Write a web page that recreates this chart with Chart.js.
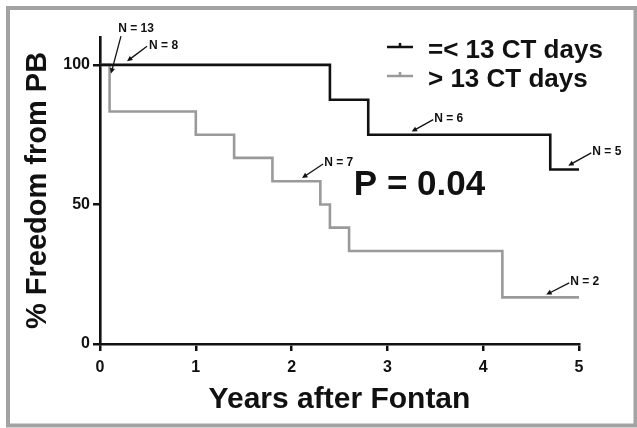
<!DOCTYPE html>
<html>
<head>
<meta charset="utf-8">
<script src="https://cdn.jsdelivr.net/npm/chart.js@4"></script>
<style>
  html, body { margin: 0; padding: 0; background: #fff; }
  #wrap { position: relative; width: 637px; height: 428px; }
</style>
</head>
<body>
<div id="wrap"><canvas id="km"></canvas></div>
<script>
// Kaplan-Meier data
const groupLabels = ['=< 13 CT days', '> 13 CT days'];
const shortYears = [0, 2.4, 2.8, 4.7, 5];
const shortFree = [100, 87.5, 75, 62.5, 62.5];
const longYears = [0, 0.1, 1.0, 1.4, 1.8, 2.3, 2.4, 2.6, 4.2, 5];
const longFree = [100, 83.3, 75, 66.7, 58.3, 50, 41.7, 33.3, 16.7, 16.7];
const yTicks = [0, 50, 100];
const pValueText = 'P = 0.04';

// number-at-risk callouts: text, arrow tip, arrow tail, label anchor (data units)
const callouts = [
  { text: 'N = 13', tip: [0.115, 96.9], tail: [0.219, 110.3], at: [0.376, 112.9], align: 'center' },
  { text: 'N = 8', tip: [0.282, 101.3], tail: [0.491, 106.7], at: [0.512, 106.9], align: 'left' },
  { text: 'N = 6', tip: [3.253, 76.1], tail: [3.478, 80.4], at: [3.489, 80.8], align: 'left' },
  { text: 'N = 5', tip: [4.888, 63.9], tail: [5.128, 68.5], at: [5.139, 68.9], align: 'left' },
  { text: 'N = 7', tip: [2.109, 59.5], tail: [2.329, 64.5], at: [2.340, 64.9], align: 'left' },
  { text: 'N = 2', tip: [4.658, 17.7], tail: [4.898, 21.9], at: [4.909, 22.5], align: 'left' }
];

const FONT = '"Liberation Sans", Arial, Helvetica, sans-serif';
const BLACK = '#111';
const GRAY = '#9a9a9a';

const toPoints = (xs, ys) => xs.map((x, i) => ({ x, y: ys[i] }));

function drawArrow(ctx, x1, y1, x2, y2) {
  const ang = Math.atan2(y2 - y1, x2 - x1);
  const head = 6;
  ctx.beginPath();
  ctx.moveTo(x1, y1);
  ctx.lineTo(x2 - Math.cos(ang) * head * 0.6, y2 - Math.sin(ang) * head * 0.6);
  ctx.stroke();
  ctx.beginPath();
  ctx.moveTo(x2, y2);
  ctx.lineTo(x2 - head * Math.cos(ang - 0.45), y2 - head * Math.sin(ang - 0.45));
  ctx.lineTo(x2 - head * Math.cos(ang + 0.45), y2 - head * Math.sin(ang + 0.45));
  ctx.closePath();
  ctx.fill();
}

// frame, legend, p value and callouts
const extrasPlugin = {
  id: 'extras',
  afterDraw(chart) {
    const { ctx, scales: { x, y } } = chart;
    ctx.save();

    // outer gray frame
    ctx.strokeStyle = '#a3a3a3';
    ctx.lineWidth = 4;
    ctx.strokeRect(8, 8, 627.5, 417.5);

    // legend
    const legendColors = [BLACK, GRAY];
    ctx.font = `bold 26px ${FONT}`;
    ctx.textBaseline = 'middle';
    ctx.textAlign = 'left';
    groupLabels.forEach((label, i) => {
      const cy = 50 + i * 29;
      ctx.strokeStyle = legendColors[i];
      ctx.lineWidth = 2.5;
      ctx.beginPath();
      ctx.moveTo(387, cy - 3);
      ctx.lineTo(413, cy - 3);
      ctx.moveTo(400, cy - 3);
      ctx.lineTo(400, cy - 7);
      ctx.stroke();
      ctx.fillStyle = BLACK;
      ctx.fillText(label, 428, cy + 1);
    });

    // p value
    ctx.font = `bold 35px ${FONT}`;
    ctx.fillStyle = BLACK;
    ctx.fillText(pValueText, x.getPixelForValue(2.65), y.getPixelForValue(57));

    // callouts
    ctx.font = `bold 12px ${FONT}`;
    ctx.lineWidth = 1.3;
    ctx.strokeStyle = BLACK;
    callouts.forEach(c => {
      const tx = x.getPixelForValue(c.tip[0]), ty = y.getPixelForValue(c.tip[1]);
      const fx = x.getPixelForValue(c.tail[0]), fy = y.getPixelForValue(c.tail[1]);
      drawArrow(ctx, fx, fy, tx, ty);
      ctx.textAlign = c.align;
      ctx.fillText(c.text, x.getPixelForValue(c.at[0]), y.getPixelForValue(c.at[1]));
    });

    ctx.restore();
  }
};

const canvas = document.getElementById('km');
new Chart(canvas, {
  type: 'line',
  data: {
    datasets: [
      {
        label: groupLabels[0],
        data: toPoints(shortYears, shortFree),
        borderColor: BLACK,
        borderWidth: 2.6,
        stepped: 'before',
        pointRadius: 0,
        clip: false
      },
      {
        label: groupLabels[1],
        data: toPoints(longYears, longFree),
        borderColor: GRAY,
        borderWidth: 2.6,
        stepped: 'before',
        pointRadius: 0,
        clip: false
      }
    ]
  },
  options: {
    responsive: true,
    maintainAspectRatio: false,
    animation: false,
    layout: { padding: { top: 37, right: 58, left: 0, bottom: 0 } },
    plugins: {
      legend: { display: false },
      tooltip: { enabled: false }
    },
    scales: {
      x: {
        type: 'linear',
        min: 0,
        max: 5,
        ticks: {
          stepSize: 1,
          padding: 7,
          color: BLACK,
          font: { family: FONT, size: 16, weight: 'bold' }
        },
        grid: { drawOnChartArea: false, drawTicks: true, tickLength: 7, lineWidth: 2.5, color: BLACK },
        border: { display: true, width: 2.6, color: BLACK },
        title: {
          display: true,
          text: 'Years after Fontan',
          color: BLACK,
          font: { family: FONT, size: 30, weight: 'bold' },
          padding: 10
        },
        afterFit(scale) { scale.height = 84; }
      },
      y: {
        min: 0,
        max: 110,
        afterBuildTicks(scale) { scale.ticks = yTicks.map(v => ({ value: v })); },
        ticks: {
          padding: 3,
          color: BLACK,
          font: { family: FONT, size: 16, weight: 'bold' }
        },
        grid: { drawOnChartArea: false, drawTicks: true, tickLength: 7, lineWidth: 2.5, color: BLACK },
        border: { display: true, width: 2.6, color: BLACK },
        title: {
          display: true,
          text: '% Freedom from PB',
          color: BLACK,
          font: { family: FONT, size: 29, weight: 'bold' },
          padding: 21
        },
        afterFit(scale) { scale.width = 100; }
      }
    }
  },
  plugins: [extrasPlugin]
});
</script>
</body>
</html>
